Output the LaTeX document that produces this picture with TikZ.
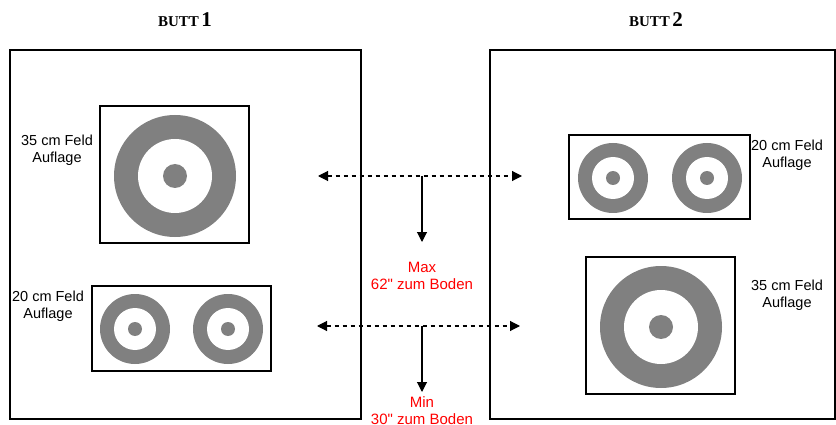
\documentclass[tikz,border=0pt]{standalone}
\usepackage{fontspec}
\setmainfont{Liberation Serif}
\newfontfamily\arial[Ligatures=TeXOff]{Liberation Sans}
\usepackage{tikz}
\usetikzlibrary{arrows.meta}

\begin{document}
\begin{tikzpicture}[x=1pt,y=-1pt,
    every node/.style={inner sep=0pt},
    frame/.style={draw,line width=1.1pt,minimum width=#1},
    label/.style={font=\arial\fontsize{14.5}{17}\selectfont,align=center},
    redlabel/.style={label,text=red,font=\arial\fontsize{15}{17}\selectfont},
    title/.style={font=\bfseries},
    dasharrow/.style={line width=1.1pt,dash pattern=on 4pt off 4pt,
        {Triangle[length=10pt,width=10pt]}-{Triangle[length=10pt,width=10pt]}},
    downarrow/.style={line width=1.1pt,-{Triangle[length=10pt,width=10pt]}},
    bigtarget/.pic={\fill[gray] (0,0) circle (61);
                    \fill[white] (0,0) circle (37);
                    \fill[gray] (0,0) circle (12);},
    smalltarget/.pic={\fill[gray] (0,0) circle (35);
                      \fill[white] (0,0) circle (21);
                      \fill[gray] (0,0) circle (7);}]
  \useasboundingbox (0,0) rectangle (836,425);
  % the two butts
  \node[frame=351pt,minimum height=369pt] (butt1) at (185.5,234.5) {};
  \node[frame=345pt,minimum height=369pt] (butt2) at (662.5,234.5) {};
  \node[title] (title1) at (185,20) {{\fontsize{15}{15}\selectfont BUTT} {\fontsize{21}{21}\selectfont 1}};
  \node[title] (title2) at (656,20) {{\fontsize{15}{15}\selectfont BUTT} {\fontsize{21}{21}\selectfont 2}};
  % target faces
  \node[frame=149pt,minimum height=137pt] (big1) at (174.5,174.5) {};
  \node[frame=179pt,minimum height=85pt] (small1) at (181.5,328.5) {};
  \node[frame=181pt,minimum height=84pt] (small2) at (659.5,177) {};
  \node[frame=149pt,minimum height=137pt] (big2) at (660.5,325.5) {};
  \pic at (175,176) {bigtarget};
  \pic at (661,327) {bigtarget};
  \pic at (135,329) {smalltarget};
  \pic at (228,329) {smalltarget};
  \pic at (613,178) {smalltarget};
  \pic at (707,178) {smalltarget};
  \node[label] (lbig1) at (57,150) {35 cm Feld\\Auflage};
  \node[label] (lsmall1) at (48,306) {20 cm Feld\\Auflage};
  \node[label] (lsmall2) at (787,155) {20 cm Feld\\Auflage};
  \node[label] (lbig2) at (787,295) {35 cm Feld\\Auflage};
  % heights
  \coordinate (maxl) at (318,176);
  \coordinate (maxr) at (522,176);
  \coordinate (maxm) at (422,176);
  \coordinate (maxtip) at (422,242);
  \coordinate (minl) at (317,326);
  \coordinate (minr) at (520,326);
  \coordinate (minm) at (422,326);
  \coordinate (mintip) at (422,392);
  \draw[dasharrow] (maxl) -- (maxr);
  \draw[dasharrow] (minl) -- (minr);
  \draw[downarrow] (maxm) -- (maxtip);
  \draw[downarrow] (minm) -- (mintip);
  \node[redlabel] (maxtxt) at (422,276) {Max\\62" zum Boden};
  \node[redlabel] (mintxt) at (422,411) {Min\\30" zum Boden};
\end{tikzpicture}
\end{document}
